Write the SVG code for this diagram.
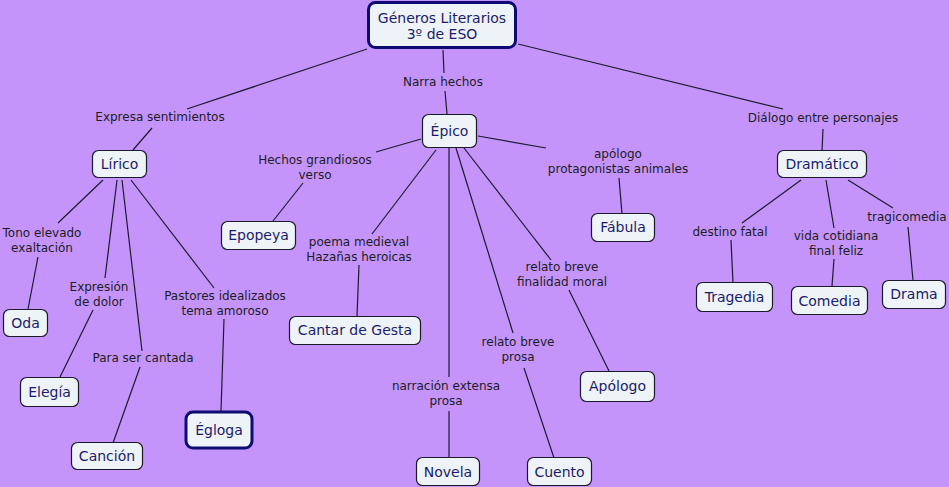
<svg xmlns="http://www.w3.org/2000/svg" width="949" height="487" viewBox="0 0 949 487">
<style>
.bg{fill:#C594FB}
.n rect{fill:#EEF3F8;stroke:#1a1a2a;stroke-width:1.2}
.n.k rect{stroke:#0B0B72;stroke-width:3}
.n text{font-family:"DejaVu Sans",Verdana,sans-serif;font-size:14px;fill:#1B1B6A;text-anchor:middle}
.l{font-family:"DejaVu Sans",Verdana,sans-serif;font-size:12px;fill:#1c1c24;text-anchor:middle}
#connectors line{stroke:#1e1a2e;stroke-width:1.2}
</style>
<rect class="bg" x="0" y="0" width="949" height="487"/>
<g id="connectors">
<line x1="367" y1="49" x2="187" y2="109"/>
<line x1="152" y1="128" x2="133" y2="150"/>
<line x1="443" y1="50" x2="444" y2="73"/>
<line x1="445" y1="91" x2="447" y2="114"/>
<line x1="518" y1="44" x2="783" y2="109"/>
<line x1="823" y1="129" x2="822" y2="151"/>
<line x1="103" y1="180" x2="58" y2="223"/>
<line x1="38" y1="257" x2="28" y2="309"/>
<line x1="117" y1="180" x2="105" y2="278"/>
<line x1="93" y1="310" x2="60" y2="377"/>
<line x1="122" y1="180" x2="142" y2="351"/>
<line x1="140" y1="367" x2="113" y2="443"/>
<line x1="131" y1="180" x2="214" y2="288"/>
<line x1="224" y1="319" x2="221" y2="411"/>
<line x1="421" y1="139" x2="376" y2="152"/>
<line x1="303" y1="183" x2="273" y2="221"/>
<line x1="436" y1="150" x2="372" y2="234"/>
<line x1="359" y1="265" x2="357" y2="316"/>
<line x1="449" y1="148" x2="449" y2="377"/>
<line x1="449" y1="411" x2="449" y2="458"/>
<line x1="456" y1="148" x2="513" y2="333"/>
<line x1="524" y1="368" x2="554" y2="458"/>
<line x1="464" y1="148" x2="551" y2="260"/>
<line x1="569" y1="290" x2="609" y2="371"/>
<line x1="478" y1="136" x2="546" y2="148"/>
<line x1="619" y1="178" x2="622" y2="214"/>
<line x1="801" y1="180" x2="742" y2="223"/>
<line x1="731" y1="240" x2="733" y2="283"/>
<line x1="826" y1="180" x2="834" y2="228"/>
<line x1="834" y1="259" x2="832" y2="286"/>
<line x1="848" y1="180" x2="893" y2="208"/>
<line x1="908" y1="227" x2="913" y2="280"/>
</g>
<g id="labels">
<text class="l" x="160" y="121">Expresa sentimientos</text>
<text class="l" x="443" y="86">Narra hechos</text>
<text class="l" x="823" y="122">Diálogo entre personajes</text>
<text class="l" x="315" y="164">Hechos grandiosos</text>
<text class="l" x="315" y="179">verso</text>
<text class="l" x="618" y="158">apólogo</text>
<text class="l" x="618" y="173">protagonistas animales</text>
<text class="l" x="42" y="237">Tono elevado</text>
<text class="l" x="42" y="252">exaltación</text>
<text class="l" x="99" y="291">Expresión</text>
<text class="l" x="99" y="306">de dolor</text>
<text class="l" x="225" y="300">Pastores idealizados</text>
<text class="l" x="225" y="315">tema amoroso</text>
<text class="l" x="143" y="362">Para ser cantada</text>
<text class="l" x="359" y="246">poema medieval</text>
<text class="l" x="359" y="261">Hazañas heroicas</text>
<text class="l" x="562" y="271">relato breve</text>
<text class="l" x="562" y="286">finalidad moral</text>
<text class="l" x="518" y="346">relato breve</text>
<text class="l" x="518" y="361">prosa</text>
<text class="l" x="446" y="390">narración extensa</text>
<text class="l" x="446" y="405">prosa</text>
<text class="l" x="730" y="236">destino fatal</text>
<text class="l" x="836" y="240">vida cotidiana</text>
<text class="l" x="836" y="255">final feliz</text>
<text class="l" x="907" y="221">tragicomedia</text>
</g>
<g id="root" class="n k"><rect x="368.5" y="2.5" width="147" height="45" rx="7"/><text x="442" y="23">Géneros Literarios</text><text x="442" y="39">3º de ESO</text></g>
<g id="lirico" class="n"><rect x="92.5" y="150.5" width="54" height="27" rx="6"/><text x="119.5" y="169">Lírico</text></g>
<g id="epico" class="n"><rect x="422.5" y="114.5" width="54" height="33" rx="6"/><text x="449.5" y="136">Épico</text></g>
<g id="dramatico" class="n"><rect x="777.5" y="150.5" width="89" height="27" rx="6"/><text x="822" y="169">Dramático</text></g>
<g id="epopeya" class="n"><rect x="221.5" y="221.5" width="74" height="28" rx="6"/><text x="258.5" y="240">Epopeya</text></g>
<g id="fabula" class="n"><rect x="591.5" y="213.5" width="63" height="28" rx="6"/><text x="623" y="232">Fábula</text></g>
<g id="oda" class="n"><rect x="3.5" y="309.5" width="44" height="27" rx="6"/><text x="25.5" y="328">Oda</text></g>
<g id="cantar" class="n"><rect x="289.5" y="316.5" width="131" height="28" rx="6"/><text x="355" y="335">Cantar de Gesta</text></g>
<g id="tragedia" class="n"><rect x="696.5" y="282.5" width="76" height="29" rx="6"/><text x="734.5" y="302">Tragedia</text></g>
<g id="comedia" class="n"><rect x="791.5" y="286.5" width="76" height="28" rx="6"/><text x="829.5" y="306">Comedia</text></g>
<g id="drama" class="n"><rect x="882.5" y="280.5" width="63" height="28" rx="6"/><text x="914" y="299">Drama</text></g>
<g id="elegia" class="n"><rect x="20.5" y="377.5" width="58" height="29" rx="6"/><text x="49.5" y="397">Elegía</text></g>
<g id="egloga" class="n k"><rect x="186" y="412" width="66" height="36" rx="7"/><text x="219" y="435">Égloga</text></g>
<g id="cancion" class="n"><rect x="71.5" y="442.5" width="71" height="27" rx="6"/><text x="107" y="461">Canción</text></g>
<g id="apologo" class="n"><rect x="580.5" y="371.5" width="74" height="30" rx="6"/><text x="617.5" y="391">Apólogo</text></g>
<g id="novela" class="n"><rect x="416.5" y="457.5" width="63" height="28" rx="6"/><text x="448" y="477">Novela</text></g>
<g id="cuento" class="n"><rect x="527.5" y="457.5" width="64" height="28" rx="6"/><text x="559.5" y="477">Cuento</text></g>
</svg>
